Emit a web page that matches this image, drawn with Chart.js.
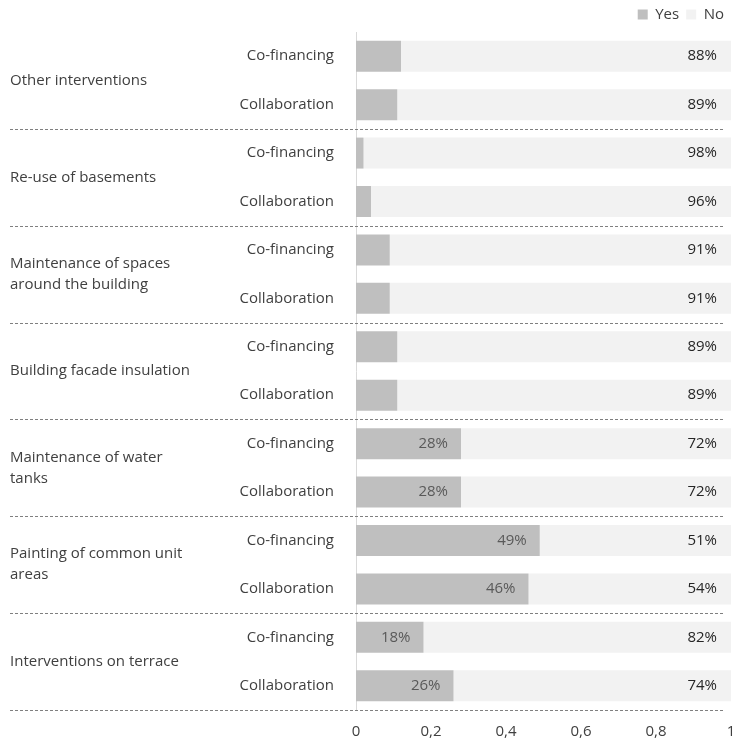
<!DOCTYPE html>
<html>
<head>
<meta charset="utf-8">
<script src="https://cdn.jsdelivr.net/npm/chart.js@4/dist/chart.umd.min.js"></script>
<style>
  html, body { margin: 0; padding: 0; background: #ffffff; }
  #wrap { width: 735px; height: 743px; position: relative; }
</style>
</head>
<body>
<div id="wrap"><canvas id="c" width="735" height="743"></canvas></div>
<script>
// ---- data ----
const groupLabels = [
  ['Other interventions'],
  ['Re-use of basements'],
  ['Maintenance of spaces', 'around the building'],
  ['Building facade insulation'],
  ['Maintenance of water', 'tanks'],
  ['Painting of common unit', 'areas'],
  ['Interventions on terrace']
];
const categories = [
  'Co-financing', 'Collaboration',
  'Co-financing', 'Collaboration',
  'Co-financing', 'Collaboration',
  'Co-financing', 'Collaboration',
  'Co-financing', 'Collaboration',
  'Co-financing', 'Collaboration',
  'Co-financing', 'Collaboration'
];
const yesValues = [0.12, 0.11, 0.02, 0.04, 0.09, 0.09, 0.11, 0.11, 0.28, 0.28, 0.49, 0.46, 0.18, 0.26];
const noValues  = [0.88, 0.89, 0.98, 0.96, 0.91, 0.91, 0.89, 0.89, 0.72, 0.72, 0.51, 0.54, 0.82, 0.74];
const xTickLabels = ['0', '0,2', '0,4', '0,6', '0,8', '1'];

const FONT = '"Open Sans", sans-serif';
const FS = 15;
const TEXT = '#404040';

const groupPlugin = {
  id: 'groups',
  afterDatasetsDraw(chart) {
    const ctx = chart.ctx;
    const y = chart.scales.y;
    const pitch = y.getPixelForValue(1) - y.getPixelForValue(0);
    ctx.save();
    // dashed separators
    ctx.strokeStyle = '#7f7f7f';
    ctx.lineWidth = 1;
    ctx.setLineDash([3, 2]);
    for (let g = 0; g < groupLabels.length; g++) {
      const lastIdx = g * 2 + 1;
      const yy = Math.round(y.getPixelForValue(lastIdx) + pitch / 2) + 0.5;
      ctx.beginPath();
      ctx.moveTo(10, yy);
      ctx.lineTo(725, yy);
      ctx.stroke();
    }
    ctx.setLineDash([]);
    // group labels
    ctx.fillStyle = TEXT;
    ctx.font = FS + 'px ' + FONT;
    ctx.textAlign = 'left';
    ctx.textBaseline = 'middle';
    const lh = 21;
    groupLabels.forEach((lines, g) => {
      const cy = (y.getPixelForValue(g * 2) + y.getPixelForValue(g * 2 + 1)) / 2;
      const start = cy - (lines.length - 1) * lh / 2;
      lines.forEach((t, i) => ctx.fillText(t, 10, start + i * lh));
    });
    // value labels
    const metaYes = chart.getDatasetMeta(0);
    const metaNo = chart.getDatasetMeta(1);
    ctx.textAlign = 'right';
    metaYes.data.forEach((bar, i) => {
      const v = yesValues[i];
      if (v >= 0.15) {
        ctx.fillStyle = '#595959';
        ctx.fillText(Math.round(v * 100) + '%', bar.x - 13, bar.y);
      }
    });
    metaNo.data.forEach((bar, i) => {
      ctx.fillStyle = '#262626';
      ctx.fillText(Math.round(noValues[i] * 100) + '%', bar.x - 14, bar.y);
    });
    ctx.restore();
  }
};

new Chart(document.getElementById('c'), {
  type: 'bar',
  data: {
    labels: categories,
    datasets: [
      { label: 'Yes', data: yesValues, backgroundColor: '#bfbfbf', borderWidth: 0,
        barPercentage: 0.64, categoryPercentage: 1 },
      { label: 'No', data: noValues, backgroundColor: '#f2f2f2', borderWidth: 0,
        barPercentage: 0.64, categoryPercentage: 1 }
    ]
  },
  options: {
    indexAxis: 'y',
    responsive: false,
    animation: false,
    layout: { padding: { left: 0, right: 4, top: 0, bottom: 0 } },
    plugins: {
      legend: {
        position: 'top',
        align: 'end',
        labels: {
          boxWidth: 10, boxHeight: 10, padding: 7,
          color: TEXT,
          font: { family: FONT, size: FS }
        }
      },
      tooltip: { enabled: false }
    },
    scales: {
      x: {
        stacked: true,
        min: 0, max: 1,
        ticks: {
          stepSize: 0.2,
          color: TEXT,
          padding: 13,
          font: { family: FONT, size: FS },
          callback: (v, i) => xTickLabels[i]
        },
        grid: { display: false, drawTicks: false },
        border: { display: false },
        afterFit: s => { s.height = 33; s.paddingLeft = 0; s.paddingRight = 0; }
      },
      y: {
        stacked: true,
        ticks: {
          color: TEXT,
          padding: 22,
          font: { family: FONT, size: FS }
        },
        grid: { display: false, drawTicks: false },
        border: { display: true, color: '#d9d9d9' },
        afterFit: s => { s.width = 356; s.paddingTop = 0; s.paddingBottom = 0; }
      }
    }
  },
  plugins: [groupPlugin]
});
</script>
</body>
</html>
